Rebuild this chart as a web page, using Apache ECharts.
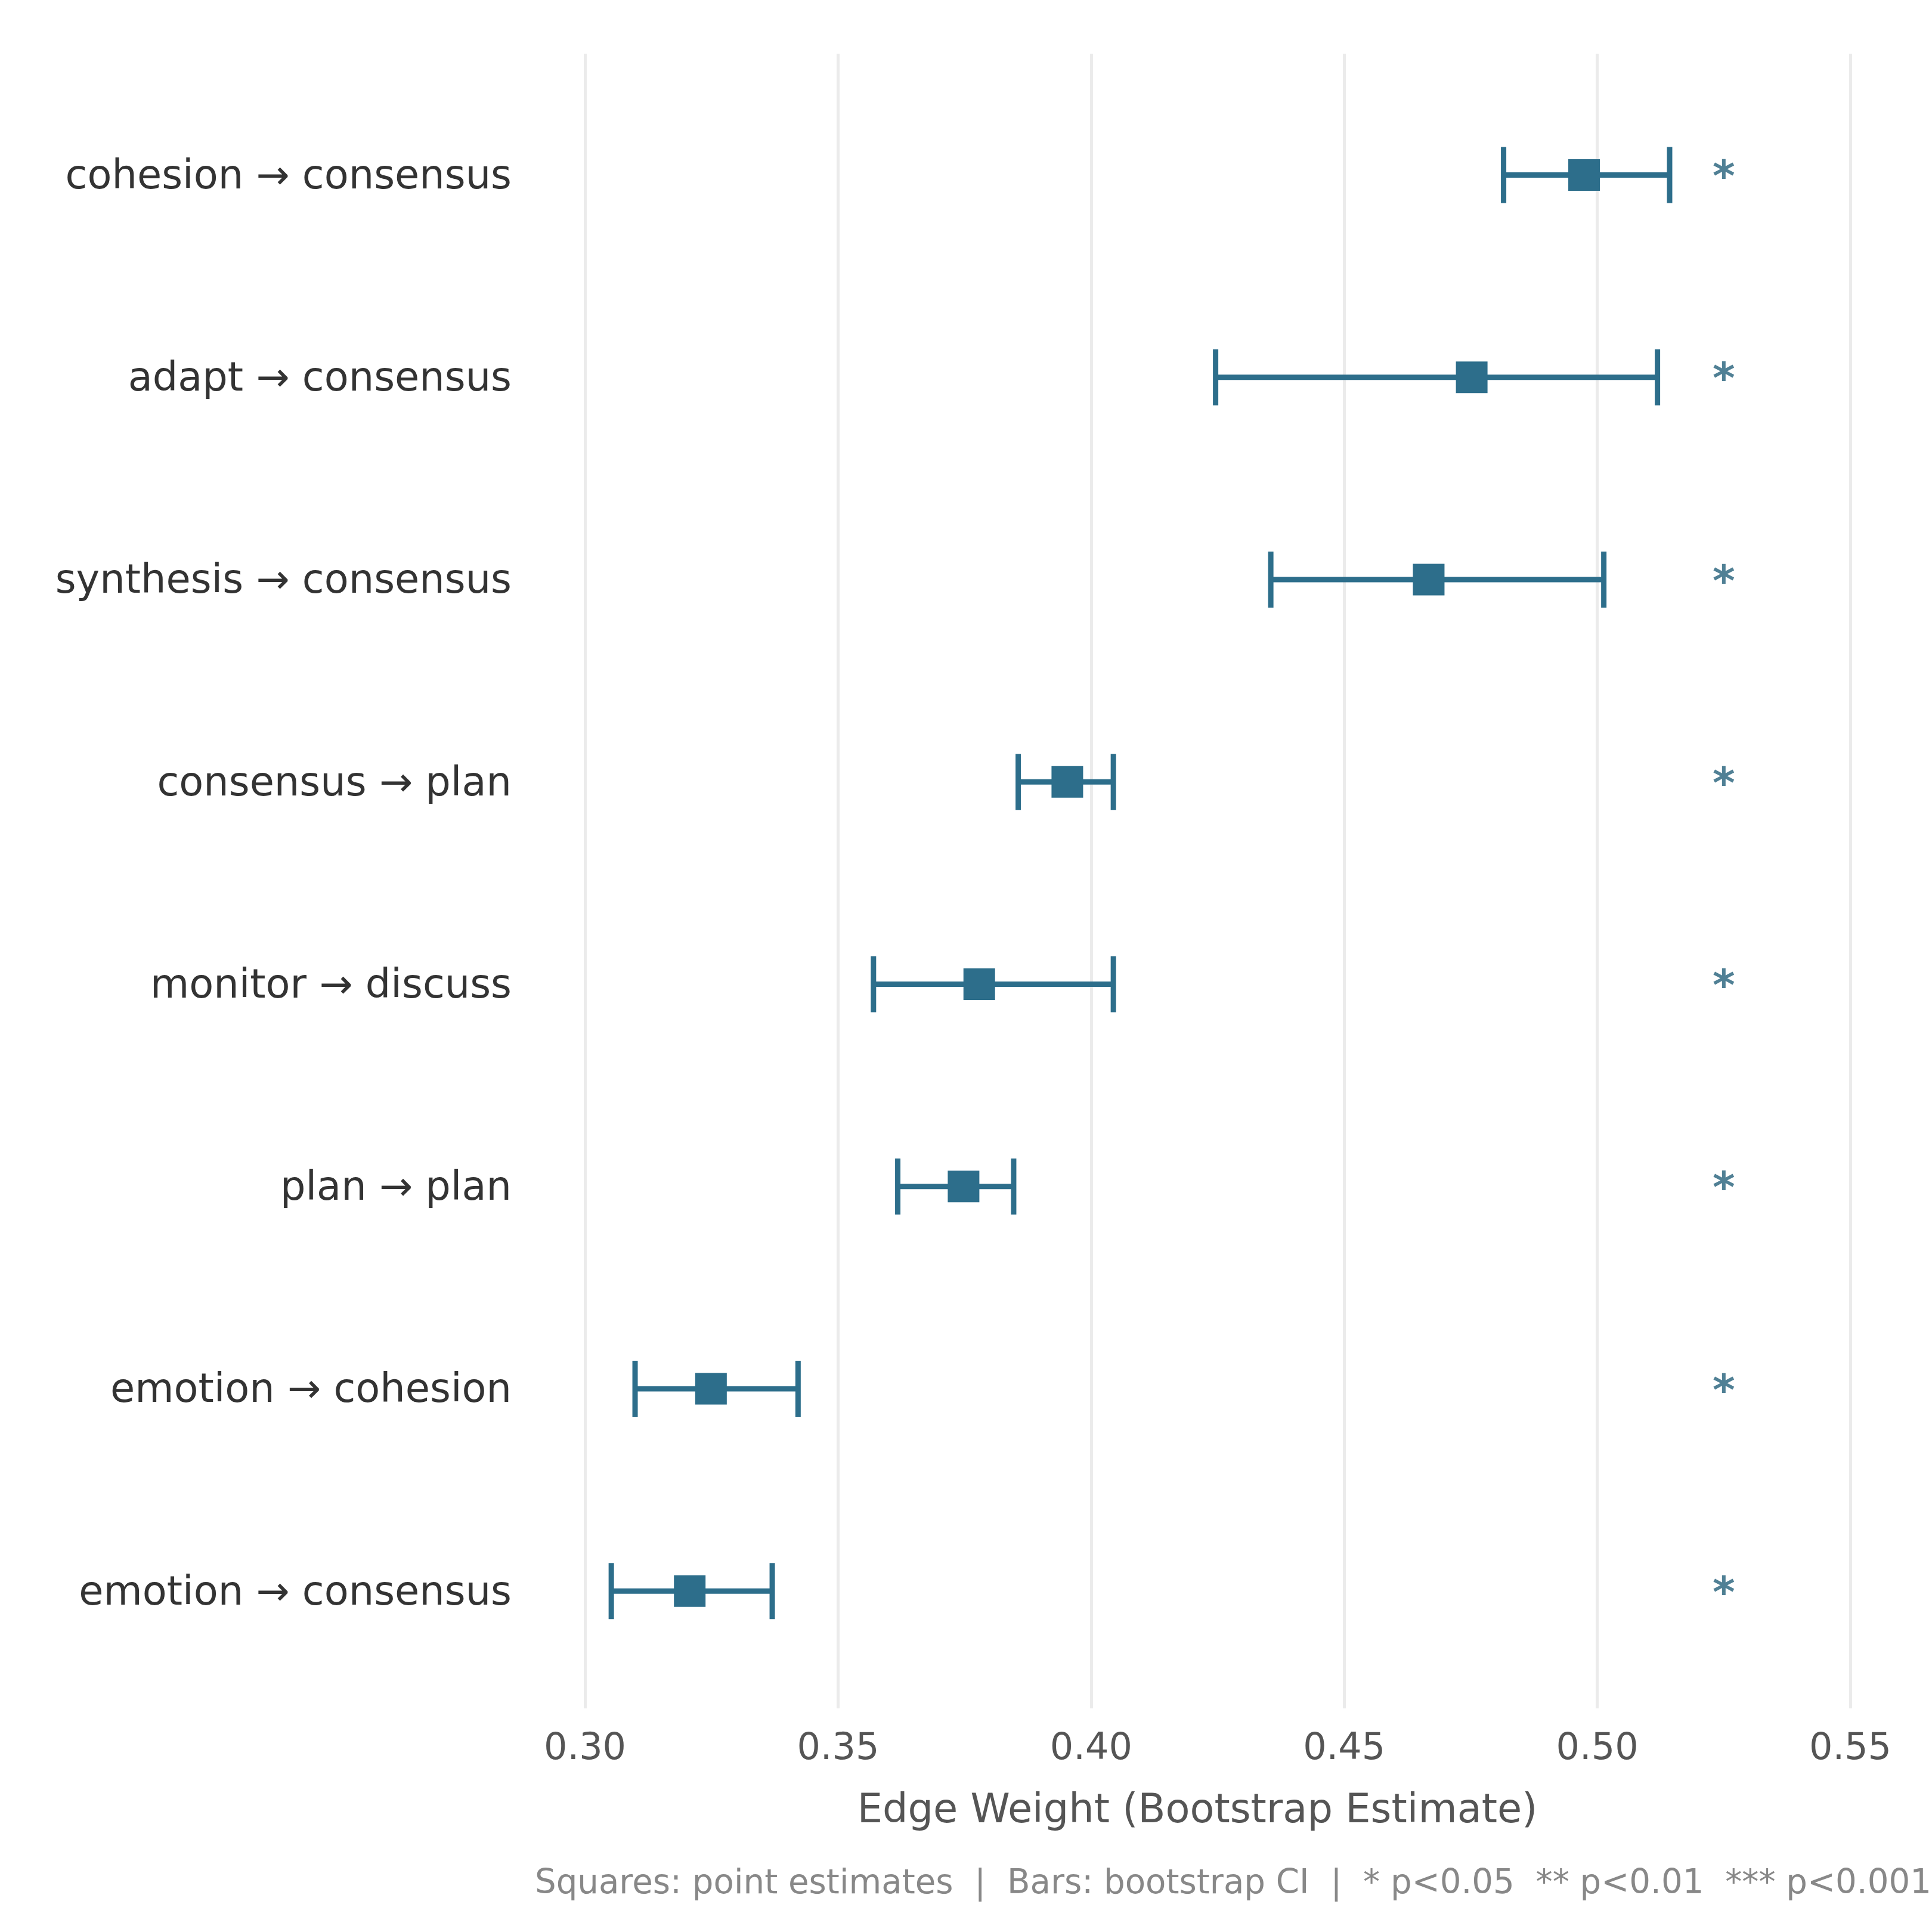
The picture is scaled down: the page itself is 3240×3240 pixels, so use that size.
<!DOCTYPE html>
<html>
<head>
    <title>edge weights</title>
    <script src="https://cdn.jsdelivr.net/npm/echarts@6/dist/echarts.min.js"></script>
</head>
<body style="margin:0;background:#fff;">

<div id="edgeChart" style="width: 3240px;height:3240px;"></div>

<script type="text/javascript">
    var categories = ['cohesion → consensus', 'adapt → consensus', 'synthesis → consensus', 'consensus → plan',
                      'monitor → discuss', 'plan → plan', 'emotion → cohesion', 'emotion → consensus'];
    var estimates = [0.4974, 0.4752, 0.4667, 0.3953, 0.3779, 0.3748, 0.3249, 0.3207];
    var ciLow = [0.4815, 0.4246, 0.4355, 0.3856, 0.3570, 0.3618, 0.3099, 0.3052];
    var ciHigh = [0.5143, 0.5119, 0.5013, 0.4044, 0.4044, 0.3847, 0.3421, 0.3370];
    var stars = ['*', '*', '*', '*', '*', '*', '*', '*'];
    var xTicks = [0.30, 0.35, 0.40, 0.45, 0.50, 0.55];

    var blue = '#2d6e8b';
    var font = 'DejaVu Sans';

    var barData = [], pointData = [], starData = [];
    for (var i = 0; i < categories.length; i ++){
        barData.push([i, ciLow[i], ciHigh[i]]);
        pointData.push([estimates[i], i]);
        starData.push([0.525, i, stars[i]]);
    }

    function renderErrorBar(params, api) {
        var y = api.value(0);
        var lo = api.coord([api.value(1), y]);
        var hi = api.coord([api.value(2), y]);
        var h = 47;
        var st = {stroke: blue, lineWidth: 9};
        return {
            type: 'group',
            children: [
                {type: 'line', shape: {x1: lo[0], y1: lo[1], x2: hi[0], y2: hi[1]}, style: st},
                {type: 'line', shape: {x1: lo[0], y1: lo[1] - h, x2: lo[0], y2: lo[1] + h}, style: st},
                {type: 'line', shape: {x1: hi[0], y1: hi[1] - h, x2: hi[0], y2: hi[1] + h}, style: st}
            ]
        };
    }

    var chart = echarts.init(document.getElementById('edgeChart'));
    chart.setOption({
        backgroundColor: '#ffffff',
        animation: false,
        grid: {left: 981, right: 137, top: 90, bottom: 375},
        xAxis: {
            type: 'value',
            min: xTicks[0],
            max: xTicks[xTicks.length - 1],
            interval: 0.05,
            axisLine: {show: false},
            axisTick: {show: false},
            axisLabel: {
                margin: 38,
                fontFamily: font,
                fontSize: 62,
                color: '#555555',
                formatter: function (v) { return v.toFixed(2); }
            },
            splitLine: {show: true, lineStyle: {color: '#ebebeb', width: 5}},
            name: 'Edge Weight (Bootstrap Estimate)',
            nameLocation: 'middle',
            nameGap: 140,
            nameTextStyle: {fontFamily: font, fontSize: 67, color: '#555555', padding: [0, 68, 0, 0]}
        },
        yAxis: {
            type: 'value',
            inverse: true,
            min: -0.6,
            max: 7.58,
            axisLine: {show: false},
            axisTick: {show: false},
            splitLine: {show: false},
            axisLabel: {
                customValues: [0, 1, 2, 3, 4, 5, 6, 7],
                margin: 123,
                formatter: function (v) { return '{c|' + categories[v] + '}'; },
                rich: {
                    c: {
                        fontFamily: font,
                        fontSize: 67,
                        color: '#333333',
                        padding: [10, 0, 0, 0]
                    }
                }
            }
        },
        graphic: [{
            type: 'text',
            x: 897,
            y: 3160,
            style: {
                text: 'Squares: point estimates  |  Bars: bootstrap CI  |  * p<0.05  ** p<0.01  *** p<0.001',
                fontFamily: font,
                fontSize: 56.2,
                fill: '#888888',
                verticalAlign: 'middle'
            }
        }],
        series: [
            {
                type: 'custom',
                renderItem: renderErrorBar,
                encode: {x: [1, 2], y: 0},
                data: barData,
                z: 2
            },
            {
                type: 'scatter',
                symbol: 'rect',
                symbolSize: 53,
                itemStyle: {color: blue, opacity: 1},
                data: pointData,
                z: 3
            },
            {
                type: 'scatter',
                symbolSize: 0,
                data: starData,
                label: {
                    show: true,
                    position: 'inside',
                    offset: [0, 8],
                    fontFamily: font,
                    fontSize: 72,
                    fontWeight: 'bold',
                    color: '#24607a',
                    formatter: function (p) { return p.data[2]; }
                },
                z: 3
            }
        ]
    });
</script>
</body>
</html>
